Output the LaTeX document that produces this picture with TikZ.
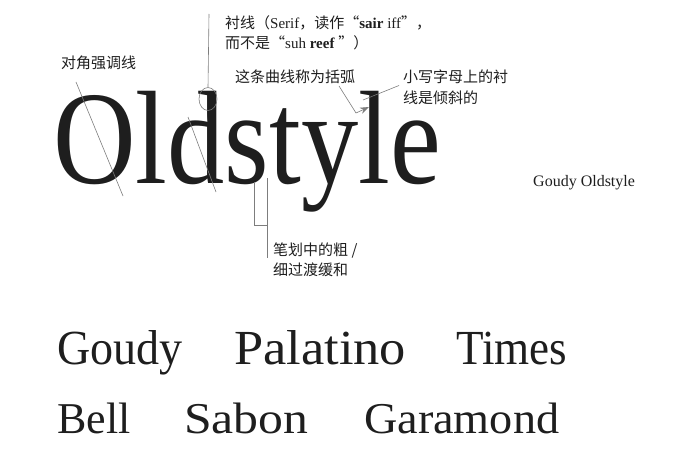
\documentclass[tikz,border=0pt]{standalone}
\usepackage{fontspec}
\setmainfont{Liberation Serif}
\newfontfamily\cjk{Noto Sans CJK SC}
\usetikzlibrary{positioning,arrows.meta,shapes.geometric,calc}
\definecolor{leadGray}{RGB}{125,125,125}
\definecolor{inkBlack}{RGB}{30,30,30}

\begin{document}
\begin{tikzpicture}[x=1pt, y=-1pt,
  notelabel/.style={font=\fontsize{15}{20.5}\selectfont\cjk, text=inkBlack, align=left, inner sep=0pt, anchor=west},
  leadline/.style={draw=leadGray, line width=0.6pt},
  leadarrow/.style={leadline, -{Stealth[length=9pt, width=6.5pt]}},
  specimen/.style={text=inkBlack, anchor=base west, inner sep=0pt},
  bigword/.style={specimen, font=\fontsize{133}{133}\selectfont},
]
\useasboundingbox (0,0) rectangle (692,457);

% ===================================================================
% TOP: big specimen word with annotations
% ===================================================================
\node[bigword, text height=92] (title) at (53,183) {\scalebox{0.86}[1]{Oldstyl}};
\node[bigword, text height=62] (titleE) at (title.base east) {\scalebox{0.86}[1]{e}};
\node[specimen, font=\fontsize{16}{16}\selectfont, anchor=west] (fontname) at (533,183) {Goudy Oldstyle};

% Diagonal stress
\node[notelabel] (stressLbl) at (61,63) {对角强调线};
\coordinate (stressOa) at (76,82);
\coordinate (stressOb) at (123,196);
\coordinate (stressDa) at (188,117);
\coordinate (stressDb) at (216,192);
\draw[leadline] (stressOa) -- (stressOb);
\draw[leadline] (stressDa) -- (stressDb);

% Serif
\node[notelabel] (serifLbl) at (225,33)
  {衬线（{\rmfamily Serif}，读作“{\rmfamily\textbf{sair} iff}”，\\
   而不是“{\rmfamily suh \textbf{reef} }”）};
\coordinate (serifTop) at (209,14);
\node[leadline, ellipse, minimum width=18, minimum height=23, inner sep=0pt] (serifRing) at (208,99) {};
\draw[leadline] (serifTop) -- (serifRing.north);

% Bracket
\node[notelabel] (bracketLbl) at (235,77) {这条曲线称为括弧};
\coordinate (bracketFrom) at (339,86);
\coordinate (bracketBend) at (356,113);
\coordinate (bracketTip) at (369,107);
\draw[leadarrow] (bracketFrom) -- (bracketBend) -- (bracketTip);

% Slanted serif on lowercase
\node[notelabel] (slantLbl) at (403,87.5) {小写字母上的衬\\线是倾斜的};
\coordinate (slantTip) at (363,100);
\draw[leadline] ($(slantLbl.west)+(-4,-2)$) -- (slantTip);

% Thick / thin transition
\node[notelabel] (strokeLbl) at (273,260) {笔划中的粗 /\\细过渡缓和};
\coordinate (strokeLa) at (254,182);
\coordinate (strokeLb) at (254,225);
\coordinate (strokeRa) at (267,178);
\coordinate (strokeRb) at (267,258);
\draw[leadline] (strokeLa) -- (strokeLb) -- (strokeLb -| strokeRa);
\draw[leadline] (strokeRa) -- (strokeRb);

% ===================================================================
% BOTTOM: oldstyle typefaces
% ===================================================================
\foreach \w/\x/\s [count=\i] in {Goudy/57/0.94, Palatino/234/1.07, Times/456/0.92}
  \node[specimen, font=\fontsize{49}{49}\selectfont] (faceA\i) at (\x,364) {\scalebox{\s}[1]{\w}};
\foreach \w/\x/\s [count=\i] in {Bell/57/1.0, Sabon/184/1.13, Garamond/364/1.05}
  \node[specimen, font=\fontsize{44}{44}\selectfont] (faceB\i) at (\x,433) {\scalebox{\s}[1]{\w}};

\end{tikzpicture}
\end{document}
